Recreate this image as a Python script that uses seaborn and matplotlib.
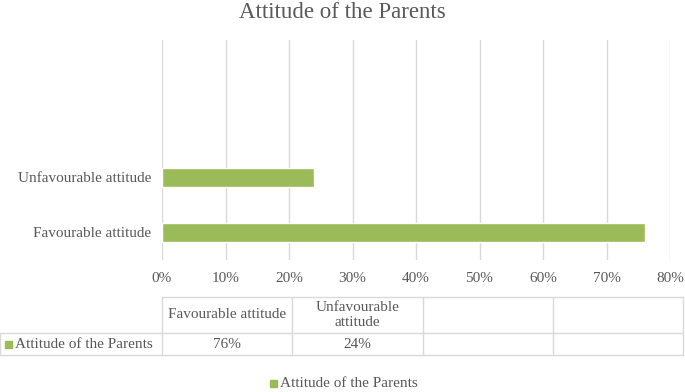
import matplotlib
matplotlib.use("Agg")
import matplotlib.pyplot as plt
from matplotlib.lines import Line2D
from matplotlib.patches import Rectangle
import seaborn as sns
import pandas as pd

categories = ["Favourable attitude", "Unfavourable attitude"]
values = [76, 24]
series_name = "Attitude of the Parents"
table_headers = ["Favourable attitude", "Unfavourable\nattitude", "", ""]
table_values = ["76%", "24%", "", ""]
xticks = [0, 10, 20, 30, 40, 50, 60, 70, 80]

sns.set_theme(style="white")
plt.rcParams['font.family'] = ['Liberation Serif', 'DejaVu Serif']

GREEN = "#9BBB59"
TXT = "#595959"
GRID = "#D9D9D9"
FS = 11

W, H = 685, 392
fig = plt.figure(figsize=(W / 100, H / 100), dpi=100)

def fx(px):
    return px / W

def fy(py):
    return 1 - py / H

ax_left, ax_right, ax_top, ax_bot = 162, 670, 40, 260
ax = fig.add_axes([fx(ax_left), fy(ax_bot), fx(ax_right - ax_left), (ax_bot - ax_top) / H])

df = pd.DataFrame({"cat": categories, "val": values})
order = ["e1", "e2", categories[1], categories[0]]
sns.barplot(data=df, y="cat", x="val", order=order, orient="h", color=GREEN,
            saturation=1, width=0.33, ax=ax)

ax.set_xlim(0, 80)
ax.set_ylim(3.5, -0.5)
ax.set_xticks(xticks)
ax.set_xticklabels([f"{t}%" for t in xticks], color=TXT, fontsize=FS)
ax.set_yticks(range(4))
ax.set_yticklabels(["", "", categories[1], categories[0]], color=TXT, fontsize=FS)
ax.tick_params(axis="both", length=0, pad=8)
ax.tick_params(axis="x", pad=9)
ax.set_xlabel("")
ax.set_ylabel("")
ax.grid(axis="x", color=GRID, linewidth=1)
ax.set_axisbelow(True)
for s in ax.spines.values():
    s.set_visible(False)

fig.text(0.5, fy(12), "Attitude of the Parents", ha="center", va="center",
         fontsize=16.5, color=TXT)

# data table
col_x = [0, 162, 292, 423, 553, 683]
row_y = [297, 333, 355]

def hline(y, x0, x1):
    fig.add_artist(Line2D([fx(x0), fx(x1)], [fy(y), fy(y)], color=GRID, lw=1))

def vline(x, y0, y1):
    fig.add_artist(Line2D([fx(x), fx(x)], [fy(y0), fy(y1)], color=GRID, lw=1))

hline(row_y[0], col_x[1], col_x[-1])
hline(row_y[1], col_x[0], col_x[-1])
hline(row_y[2], col_x[0], col_x[-1])
vline(col_x[0], row_y[1], row_y[2])
for x in col_x[1:]:
    vline(x, row_y[0], row_y[2])

for i, (hd, v) in enumerate(zip(table_headers, table_values)):
    cx = (col_x[i + 1] + col_x[i + 2]) / 2
    fig.text(fx(cx), fy((row_y[0] + row_y[1]) / 2), hd, ha="center", va="center",
             fontsize=FS, color=TXT, linespacing=1.15)
    fig.text(fx(cx), fy((row_y[1] + row_y[2]) / 2), v, ha="center", va="center",
             fontsize=FS, color=TXT)

# series key in table
fig.add_artist(Rectangle((fx(5), fy(348)), fx(7), 7 / H, color=GREEN))
fig.text(fx(15), fy(344.5), series_name, ha="left", va="center", fontsize=FS, color=TXT)

# legend
fig.add_artist(Rectangle((fx(270), fy(387)), fx(7), 7 / H, color=GREEN))
fig.text(fx(280), fy(383.5), series_name, ha="left", va="center", fontsize=FS, color=TXT)

fig.savefig("out.png", dpi=100)
